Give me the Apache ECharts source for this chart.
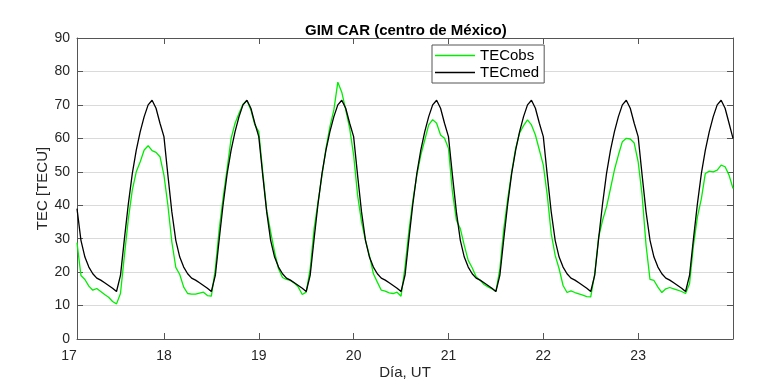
<!DOCTYPE html>
<html><head><meta charset="utf-8">
<script src="https://cdn.jsdelivr.net/npm/echarts@6/dist/echarts.min.js"></script>
<style>html,body{margin:0;padding:0;background:#fff}#c{width:771px;height:386px}</style>
</head><body><div id="c"></div>
<script>
// ---- data (day of month, UT; values in TECU) ----
const days = [17, 18, 19, 20, 21, 22, 23];
const firstHourDay17 = 2;          // series start at 17 02:00 UT
const dayTicks = [18, 19, 20, 21, 22, 23];
const seriesNames = ['TECobs', 'TECmed'];

// TECobs, hourly (day 17 starts at 02 UT)
const obsDay17 = [28.8, 19, 17.8, 15.8, 14.6, 15.1, 14.2, 13.3, 12.5, 11.2, 10.5, 13.6, 25, 36, 44.6, 50, 53, 56.5, 57.8, 56.3, 55.8, 54.5];
const obsDay18 = [49, 40, 29, 21.4, 19.3, 15.5, 13.6, 13.4, 13.4, 13.7, 14, 13, 12.8, 21, 33, 42.5, 51, 60, 64.5, 67.5, 70.2, 71.3, 68.5, 64];
const obsDay19 = [62, 50, 38.5, 32, 26, 21, 18.4, 17.8, 17.5, 16.7, 15.5, 13.3, 14, 21, 33, 41, 49, 57, 63.5, 68.5, 76.8, 73.8, 68.5, 63];
const obsDay20 = [55, 43, 35, 29.5, 25, 19.5, 17, 14.6, 14.3, 13.8, 13.6, 14, 12.8, 21.5, 32.5, 41.5, 49, 55, 59.5, 64, 65.6, 64.5, 61, 60];
const obsDay21 = [57, 44, 35.5, 33, 28, 23.5, 21.3, 18.6, 17.6, 16.3, 15.6, 15, 14.2, 21, 33, 42, 50, 57, 61.6, 63.8, 65.5, 64, 61, 56.5];
const obsDay22 = [52, 43, 31.5, 25, 21, 16, 13.9, 14.4, 13.9, 13.5, 13.1, 12.7, 12.6, 19.5, 30.5, 35.5, 39.5, 45, 50.6, 55, 59, 60, 59.8, 58.6];
const obsDay23 = [53, 43, 28, 17.8, 17.5, 15.5, 13.9, 15, 15.4, 15, 14.6, 14.2, 13.6, 16.5, 28, 36.5, 42, 49.5, 50.2, 50, 50.5, 52, 51.5, 49];
const obsDay24 = [45];

// TECmed, hourly
const medDay17 = [39, 29.5, 24.5, 21.5, 19.5, 18.2, 17.6, 16.8, 16, 15.2, 14.2, 19, 30, 40.5, 49.5, 56.5, 62, 66.5, 70, 71.4, 69, 64.5];
const medDay18 = [60.5, 49, 38, 29.5, 24.5, 21.5, 19.5, 18.2, 17.6, 16.8, 16, 15.2, 14.2, 19, 30, 40.5, 49.5, 56.5, 62, 66.5, 70, 71.4, 69, 64.5];
const medDay19 = [60.5, 49, 38, 29.5, 24.5, 21.5, 19.5, 18.2, 17.6, 16.8, 16, 15.2, 14.2, 19, 30, 40.5, 49.5, 56.5, 62, 66.5, 70, 71.4, 69, 64.5];
const medDay20 = [60.5, 49, 38, 29.5, 24.5, 21.5, 19.5, 18.2, 17.6, 16.8, 16, 15.2, 14.2, 19, 30, 40.5, 49.5, 56.5, 62, 66.5, 70, 71.4, 69, 64.5];
const medDay21 = [60.5, 49, 38, 29.5, 24.5, 21.5, 19.5, 18.2, 17.6, 16.8, 16, 15.2, 14.2, 19, 30, 40.5, 49.5, 56.5, 62, 66.5, 70, 71.4, 69, 64.5];
const medDay22 = [60.5, 49, 38, 29.5, 24.5, 21.5, 19.5, 18.2, 17.6, 16.8, 16, 15.2, 14.2, 19, 30, 40.5, 49.5, 56.5, 62, 66.5, 70, 71.4, 69, 64.5];
const medDay23 = [60.5, 49, 38, 29.5, 24.5, 21.5, 19.5, 18.2, 17.6, 16.8, 16, 15.2, 14.2, 19, 30, 40.5, 49.5, 56.5, 62, 66.5, 70, 71.4, 69, 64.5];
const medDay24 = [60];

// ---- build [time, value] pairs ----
function build(perDay, last) {
  const out = [];
  perDay.forEach((vals, i) => {
    const d = days[i];
    const h0 = i === 0 ? firstHourDay17 : 0;
    vals.forEach((v, k) => out.push([d + (h0 + k) / 24, v]));
  });
  last.forEach((v) => out.push([24, v]));
  return out;
}
const obsData = build([obsDay17, obsDay18, obsDay19, obsDay20, obsDay21, obsDay22, obsDay23], obsDay24);
const medData = build([medDay17, medDay18, medDay19, medDay20, medDay21, medDay22, medDay23], medDay24);

const FONT = 'Liberation Sans, Arial, Helvetica, sans-serif';
const AX = '#555';
const GREEN = '#00ee00';
const xMin = 17 + firstHourDay17 / 24, xMax = 24;

const chart = echarts.init(document.getElementById('c'), null, {renderer: 'canvas'});
chart.setOption({
  animation: false,
  backgroundColor: '#fff',
  title: {
    text: 'GIM CAR (centro de México)', left: 305, top: 23, padding: 0,
    textStyle: {fontFamily: FONT, fontSize: 15, fontWeight: 'bold', color: '#000'}
  },
  legend: {
    data: seriesNames, orient: 'vertical', left: 432, top: 45,
    icon: 'rect', itemWidth: 40, itemHeight: 1.5, itemGap: 0, padding: [2, 5, 2, 3],
    borderColor: AX, borderWidth: 1, borderRadius: 0, backgroundColor: '#fff',
    textStyle: {fontFamily: FONT, fontSize: 15, color: '#000', lineHeight: 17, height: 17}
  },
  grid: {left: 77, right: 38, top: 38, bottom: 47, containLabel: false},
  xAxis: [
    {
      type: 'value', min: xMin, max: xMax, position: 'bottom',
      axisLine: {show: true, onZero: false, lineStyle: {color: AX, width: 1}},
      axisTick: {show: true, inside: true, length: 6, customValues: dayTicks, lineStyle: {color: AX}},
      axisLabel: {customValues: dayTicks, color: '#262626', fontSize: 14, fontFamily: FONT, margin: 10},
      splitLine: {show: false},
      name: 'Día, UT', nameLocation: 'middle', nameGap: 26, nameMoveOverlap: false,
      nameTextStyle: {fontFamily: FONT, fontSize: 15, color: '#262626'}
    },
    {
      type: 'value', min: xMin, max: xMax, position: 'top',
      axisLine: {show: true, onZero: false, lineStyle: {color: AX, width: 1}},
      axisTick: {show: true, inside: true, length: 6, customValues: dayTicks, lineStyle: {color: AX}},
      axisLabel: {show: false}, splitLine: {show: false}
    }
  ],
  yAxis: [
    {
      type: 'value', min: 0, max: 90, interval: 10, position: 'left',
      axisLine: {show: true, onZero: false, lineStyle: {color: AX, width: 1}},
      axisTick: {show: true, inside: true, length: 6, lineStyle: {color: AX}},
      axisLabel: {color: '#262626', fontSize: 14, fontFamily: FONT, margin: 7},
      splitLine: {show: true, lineStyle: {color: '#dadada', width: 1}},
      name: 'TEC [TECU]', nameLocation: 'middle', nameGap: 27, nameMoveOverlap: false,
      nameTextStyle: {fontFamily: FONT, fontSize: 15, color: '#262626'}
    },
    {
      type: 'value', min: 0, max: 90, interval: 10, position: 'right',
      axisLine: {show: true, onZero: false, lineStyle: {color: AX, width: 1}},
      axisTick: {show: true, inside: true, length: 6, lineStyle: {color: AX}},
      axisLabel: {show: false}, splitLine: {show: false}
    }
  ],
  series: [
    {
      name: seriesNames[0], type: 'line', data: obsData, xAxisIndex: 0, yAxisIndex: 0,
      symbol: 'none', showSymbol: false, lineStyle: {color: GREEN, width: 1.3}, itemStyle: {color: GREEN}
    },
    {
      name: seriesNames[1], type: 'line', data: medData, xAxisIndex: 0, yAxisIndex: 0,
      symbol: 'none', showSymbol: false, lineStyle: {color: '#000', width: 1.3}, itemStyle: {color: '#000'}
    }
  ]
});

// the "17" tick label sits just left of the plot area (axis starts at 02 UT)
const p17 = chart.convertToPixel({xAxisIndex: 0}, 17);
const yBase = chart.convertToPixel({yAxisIndex: 0}, 0);
chart.setOption({
  graphic: [{
    type: 'text', x: p17, y: yBase + 10,
    style: {text: String(days[0]), fill: '#262626', font: '14px ' + FONT, textAlign: 'center', textVerticalAlign: 'top'}
  }]
});
</script>
</body></html>
